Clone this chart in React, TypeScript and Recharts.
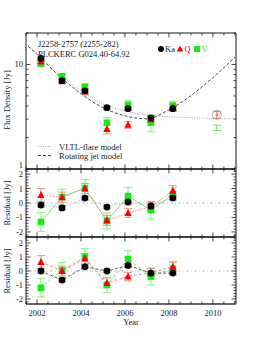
import React from "react";
import {
  ComposedChart,
  Scatter,
  Line,
  XAxis,
  YAxis,
  ErrorBar,
  ReferenceLine,
} from "recharts";

/* ── data ───────────────────────────────────────────────────────── */

const epochs = [2002.18, 2003.14, 2004.18, 2005.18, 2006.14, 2007.18, 2008.18];

// flux density [Jy]
const fluxKa = [11.4, 7.0, 5.6, 3.86, 3.78, 3.09, 3.78];
const fluxQ = [10.7, 6.9, 5.5, 2.42, 2.65, 3.0, 3.86];
const fluxV = [10.2, 7.7, 6.1, 2.77, 4.1, 2.77, 4.04];
const errKa = [0.25, 0.2, 0.2, 0.15, 0.15, 0.15, 0.15];
const errQ = [0.45, 0.3, 0.3, 0.25, 0.2, 0.2, 0.3];
const errV = [0.55, 0.35, 0.4, 0.35, 0.4, 0.5, 0.4];

// 2010 epoch
const lateYear = [2010.18];
const lateKa = [3.3];
const lateQ = [3.3];
const lateQErr = [0.25];
const lateV = [2.48];
const lateVErr = [0.15];

// model curves
const modelYears = [2001.6, 2002, 2003, 2004, 2005, 2006, 2007, 2008, 2009, 2010, 2011];
const vltlModel = [14.9, 12.8, 8.2, 5.6, 4.2, 3.6, 3.3, 3.16, 3.09, 3.06, 3.02];
const jetModel = [14.9, 12.5, 7.8, 5.26, 3.86, 3.23, 3.02, 3.69, 5.03, 7.5, 11.7];

// residuals [Jy], VLTL-flare model
const res1Ka = [-0.14, -0.34, 0.34, -0.28, 0.07, -0.2, 0.35];
const res1Q = [0.55, 0.4, 1.0, -1.2, -0.69, -0.25, 0.85];
const res1V = [-1.31, 0.41, 1.03, -1.24, 0.48, -0.5, 0.6];
// residuals [Jy], rotating jet model
const res2Ka = [0.0, -0.65, 0.3, 0.0, 0.4, -0.15, -0.15];
const res2Q = [0.65, 0.0, 0.9, -0.85, -0.4, -0.1, 0.3];
const res2V = [-1.2, 0.05, 1.0, -1.0, 0.85, -0.4, 0.15];
const resErrKa = [0.15, 0.15, 0.15, 0.12, 0.12, 0.12, 0.12];
const resErrQ = [0.45, 0.35, 0.35, 0.35, 0.3, 0.3, 0.35];
const resErrV = [0.65, 0.55, 0.6, 0.55, 0.6, 0.6, 0.45];

const xTicks = [2001.5, 2002, 2002.5, 2003, 2003.5, 2004, 2004.5, 2005, 2005.5, 2006, 2006.5, 2007, 2007.5, 2008, 2008.5, 2009, 2009.5, 2010, 2010.5, 2011];
const xMajor = [2002, 2004, 2006, 2008, 2010];
const fluxTicks = [1, 2, 3, 4, 5, 6, 7, 8, 9, 10, 20];
const fluxMajor = [1, 10];
const resTicks = [-2.2, -2, -1.8, -1.6, -1.4, -1.2, -1, -0.8, -0.6, -0.4, -0.2, 0, 0.2, 0.4, 0.6, 0.8, 1, 1.2, 1.4, 1.6, 1.8, 2, 2.2, 2.4];
const resMajor = [-2, -1, 0, 1, 2];

/* ── layout / style ──────────────────────────────────────────────── */

const W = 262;
const H = 339;
const PLOT_L = 26;
const PLOT_R = 236;
const FONT = "'Liberation Serif', 'Times New Roman', serif";
const INK = "#1a1a1a";
const RED = "#ff0000";
const GREEN = "#11ee11";

const rows = (vals: number[], errs?: number[], xs: number[] = epochs) =>
  xs.map((year, i) => ({ year, v: vals[i], e: errs ? errs[i] : 0 }));

const isMajor = (list: number[], v: number) => list.some((m) => Math.abs(m - v) < 1e-6);

const dot = (fill: string, r = 3.4) => (p: any) => <circle cx={p.cx} cy={p.cy} r={r} fill={fill} />;
const tri = (fill: string) => (p: any) => (
  <polygon points={`${p.cx},${p.cy - 4} ${p.cx + 3.7},${p.cy + 3} ${p.cx - 3.7},${p.cy + 3}`} fill={fill} />
);
const sq = (fill: string) => (p: any) => (
  <rect x={p.cx - 3.3} y={p.cy - 3.3} width={6.6} height={6.6} fill={fill} />
);
const ring = (p: any) => <circle cx={p.cx} cy={p.cy} r={4.5} fill="none" stroke="#aaa" strokeWidth={1} />;
const none = () => <g />;

function xTick(side: "top" | "bottom", labels: boolean) {
  return (p: any) => {
    const v = p.payload.value;
    const major = isMajor(xMajor, v);
    const len = major ? 4.5 : 2.5;
    const dir = side === "bottom" ? -1 : 1;
    return (
      <g>
        <line x1={p.x} x2={p.x} y1={p.y} y2={p.y + dir * len} stroke={INK} strokeWidth={0.8} />
        {labels && major && (
          <text x={p.x} y={p.y + 12} textAnchor="middle" fontSize={8.5} fontFamily={FONT} fill={INK}>
            {v}
          </text>
        )}
      </g>
    );
  };
}

function yTick(side: "left" | "right", majors: number[], labels: boolean, lift = 0) {
  return (p: any) => {
    const v = p.payload.value;
    const major = isMajor(majors, v);
    const len = major ? 4.5 : 2.5;
    const dir = side === "left" ? 1 : -1;
    // the lowest label of the flux panel sits a little higher so it clears the panel below
    const dy = v === majors[0] ? 3 - lift : 3;
    return (
      <g>
        <line x1={p.x} x2={p.x + dir * len} y1={p.y} y2={p.y} stroke={INK} strokeWidth={0.8} />
        {labels && major && (
          <text x={p.x - 3} y={p.y + dy} textAnchor="end" fontSize={8.5} fontFamily={FONT} fill={INK}>
            {v}
          </text>
        )}
      </g>
    );
  };
}

interface PanelProps {
  top: number;
  bottom: number;
  yDomain: number[];
  yTicks: number[];
  yMajor: number[];
  yLog?: boolean;
  xLabels?: boolean;
  children: React.ReactNode;
}

function Panel({ top, bottom, yDomain, yTicks, yMajor, yLog, xLabels, children }: PanelProps) {
  const common = {
    tickSize: 0,
    tickMargin: 0,
    tickLine: false,
    interval: 0 as const,
    allowDataOverflow: true,
  };
  return (
    <div style={{ position: "absolute", left: 0, top: 0 }}>
      <ComposedChart
        width={W}
        height={H}
        margin={{ top: top - 1, bottom: H - bottom - 1, left: PLOT_L - 1, right: W - PLOT_R - 1 }}
      >
        <XAxis
          xAxisId="b"
          type="number"
          dataKey="year"
          domain={[2001.5, 2011.05]}
          ticks={xTicks}
          height={1}
          axisLine={{ stroke: "#333", strokeWidth: 1.5 }}
          tick={xTick("bottom", !!xLabels)}
          {...common}
        />
        <XAxis
          xAxisId="t"
          orientation="top"
          type="number"
          dataKey="year"
          domain={[2001.5, 2011.05]}
          ticks={xTicks}
          height={1}
          axisLine={{ stroke: INK, strokeWidth: 1 }}
          tick={xTick("top", false)}
          {...common}
        />
        <YAxis
          yAxisId="l"
          type="number"
          dataKey="v"
          scale={yLog ? "log" : "linear"}
          domain={yDomain}
          ticks={yTicks}
          width={1}
          axisLine={{ stroke: INK, strokeWidth: 1 }}
          tick={yTick("left", yMajor, true, yLog ? 4.5 : 0)}
          {...common}
        />
        <YAxis
          yAxisId="r"
          orientation="right"
          type="number"
          dataKey="v"
          scale={yLog ? "log" : "linear"}
          domain={yDomain}
          ticks={yTicks}
          width={1}
          axisLine={{ stroke: "#888", strokeWidth: 2 }}
          tick={yTick("right", yMajor, false)}
          {...common}
        />
        {children}
      </ComposedChart>
    </div>
  );
}

function ResidualSeries({ ka, q, v, dashed }: { ka: number[]; q: number[]; v: number[]; dashed: boolean }) {
  return (
    <>
      <ReferenceLine xAxisId="b" yAxisId="l" y={0} stroke="#bbb" strokeWidth={0.8} strokeDasharray="3 2 1 2" />
      <Scatter
        xAxisId="b"
        yAxisId="l"
        data={rows(v, resErrV)}
        shape={sq(GREEN)}
        line={{ stroke: "#55e055", strokeWidth: 0.8, strokeDasharray: dashed ? "3 2" : undefined }}
        isAnimationActive={false}
      >
        <ErrorBar dataKey="e" direction="y" width={4} stroke="#66ee66" strokeWidth={0.8} />
      </Scatter>
      <Scatter
        xAxisId="b"
        yAxisId="l"
        data={rows(q, resErrQ)}
        shape={tri(RED)}
        line={{ stroke: "#ff6a6a", strokeWidth: 0.8, strokeDasharray: dashed ? "3 2" : "1.5 1.5" }}
        isAnimationActive={false}
      >
        <ErrorBar dataKey="e" direction="y" width={4} stroke="#ff7070" strokeWidth={0.8} />
      </Scatter>
      <Scatter
        xAxisId="b"
        yAxisId="l"
        data={rows(ka, resErrKa)}
        shape={dot("#000")}
        line={{ stroke: dashed ? "#333" : "#999", strokeWidth: 0.8, strokeDasharray: dashed ? "3 2" : "1 1.5" }}
        isAnimationActive={false}
      >
        <ErrorBar dataKey="e" direction="y" width={4} stroke="#999" strokeWidth={0.8} />
      </Scatter>
    </>
  );
}

export default function App() {
  const txt = { fontFamily: FONT, fontSize: 8.5, fill: INK };
  return (
    <div style={{ position: "absolute", left: 0, top: 0, width: W, height: H, background: "#fff" }}>
      {/* flux density panel */}
      <Panel top={33} bottom={169} yDomain={[1, 20]} yTicks={fluxTicks} yMajor={fluxMajor} yLog>
        <Line
          xAxisId="b"
          yAxisId="l"
          data={rows(vltlModel, undefined, modelYears)}
          dataKey="v"
          type="monotone"
          stroke="#999"
          strokeWidth={1}
          strokeDasharray="1 1.5"
          dot={false}
          isAnimationActive={false}
        />
        <Line
          xAxisId="b"
          yAxisId="l"
          data={rows(jetModel, undefined, modelYears)}
          dataKey="v"
          type="monotone"
          stroke="#444"
          strokeWidth={1}
          strokeDasharray="3 2"
          dot={false}
          isAnimationActive={false}
        />
        <Scatter xAxisId="b" yAxisId="l" data={rows(fluxV, errV)} shape={sq(GREEN)} isAnimationActive={false}>
          <ErrorBar dataKey="e" direction="y" width={4} stroke="#66ee66" strokeWidth={0.8} />
        </Scatter>
        <Scatter xAxisId="b" yAxisId="l" data={rows(fluxQ, errQ)} shape={tri(RED)} isAnimationActive={false}>
          <ErrorBar dataKey="e" direction="y" width={4} stroke="#ff7070" strokeWidth={0.8} />
        </Scatter>
        <Scatter xAxisId="b" yAxisId="l" data={rows(fluxKa, errKa)} shape={dot("#000")} isAnimationActive={false}>
          <ErrorBar dataKey="e" direction="y" width={4} stroke="#999" strokeWidth={0.8} />
        </Scatter>
        <Scatter xAxisId="b" yAxisId="l" data={rows(lateKa, undefined, lateYear)} shape={ring} isAnimationActive={false} />
        <Scatter xAxisId="b" yAxisId="l" data={rows(lateQ, lateQErr, lateYear)} shape={dot("#ff8080", 1.5)} isAnimationActive={false}>
          <ErrorBar dataKey="e" direction="y" width={4} stroke="#ff6060" strokeWidth={0.9} />
        </Scatter>
        <Scatter xAxisId="b" yAxisId="l" data={rows(lateV, lateVErr, lateYear)} shape={none} isAnimationActive={false}>
          <ErrorBar dataKey="e" direction="y" width={4} stroke="#55dd55" strokeWidth={0.9} />
        </Scatter>
      </Panel>

      {/* residuals: VLTL-flare model */}
      <Panel top={169} bottom={237} yDomain={[-2.35, 2.35]} yTicks={resTicks.filter((t) => t <= 2.35)} yMajor={resMajor}>
        {ResidualSeries({ ka: res1Ka, q: res1Q, v: res1V, dashed: false })}
      </Panel>

      {/* residuals: rotating jet model */}
      <Panel top={237} bottom={304} yDomain={[-2.36, 2.43]} yTicks={resTicks} yMajor={resMajor} xLabels>
        {ResidualSeries({ ka: res2Ka, q: res2Q, v: res2V, dashed: true })}
      </Panel>

      {/* annotations */}
      <svg width={W} height={H} style={{ position: "absolute", left: 0, top: 0, pointerEvents: "none" }}>
        <text x={38} y={47} {...txt}>J2258-2757 (2255-282)</text>
        <text x={38} y={56.5} {...txt}>PLCKERC G024.40-64.92</text>

        <circle cx={161} cy={49} r={3} fill="#000" />
        <text x={165} y={52} {...txt}>Ka</text>
        <polygon points="180,45.5 183.3,51.5 176.7,51.5" fill={RED} />
        <text x={184.5} y={52} {...txt} fill={RED}>Q</text>
        <rect x={194} y={46} width={6} height={6} fill={GREEN} />
        <text x={201.5} y={52} {...txt} fill={GREEN}>V</text>

        <line x1={38} x2={51} y1={146.5} y2={146.5} stroke="#999" strokeWidth={1} strokeDasharray="1 1.5" />
        <text x={59} y={149.5} {...txt}>VLTL-flare model</text>
        <line x1={38} x2={51} y1={155.5} y2={155.5} stroke="#444" strokeWidth={1} strokeDasharray="3 2" />
        <text x={59} y={158.5} {...txt}>Rotating jet model</text>

        <text x={131} y={325} textAnchor="middle" {...txt}>Year</text>
        <text transform="translate(10,100) rotate(-90)" textAnchor="middle" {...txt}>Flux Density [Jy]</text>
        <text transform="translate(10,203) rotate(-90)" textAnchor="middle" {...txt}>Residual [Jy]</text>
        <text transform="translate(10,271) rotate(-90)" textAnchor="middle" {...txt}>Residual [Jy]</text>
      </svg>
    </div>
  );
}
